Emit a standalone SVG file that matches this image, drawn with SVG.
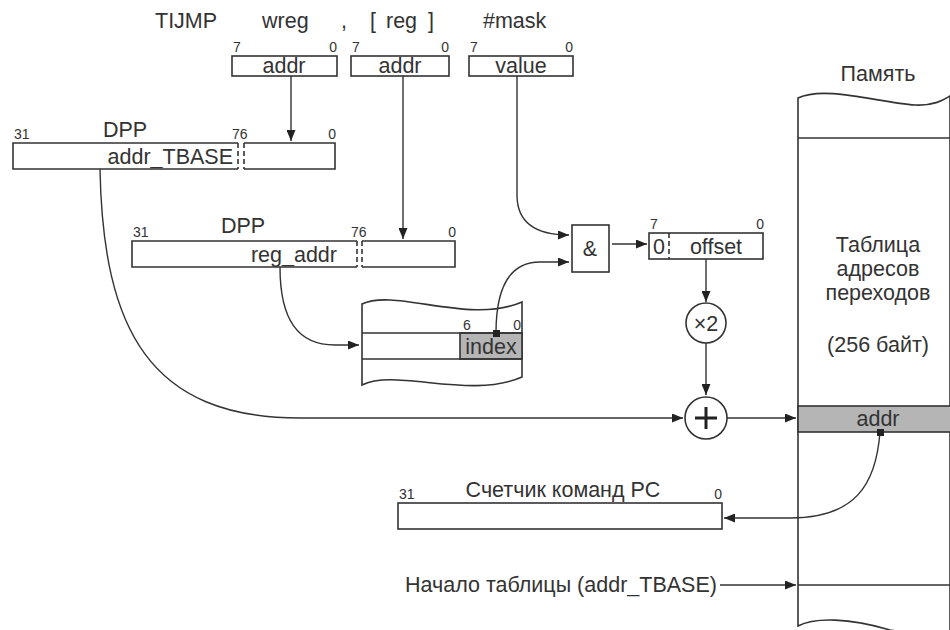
<svg xmlns="http://www.w3.org/2000/svg" width="950" height="630" viewBox="0 0 950 630">
<style>
text{font-family:"Liberation Sans",Arial,sans-serif;fill:#333}
.t{font-size:21.5px}
.b{font-size:14px}
.m{text-anchor:middle}
.e{text-anchor:end}
.s{fill:none;stroke:#333;stroke-width:1.6}
.w{fill:#fff;stroke:#333;stroke-width:1.6}
.g{fill:#b5b5b5;stroke:#333;stroke-width:1.6}
.d{fill:none;stroke:#333;stroke-width:1.6;stroke-dasharray:5 3}
.c{fill:none;stroke:#333;stroke-width:1.4}
</style>
<defs>
<marker id="ah" markerUnits="userSpaceOnUse" markerWidth="11" markerHeight="9" refX="11" refY="4.5" orient="auto">
<path d="M0,0 L11,4.5 L0,9 z" fill="#222"/>
</marker>
</defs>
<rect width="950" height="630" fill="#fff"/>

<g id="instr">
<text class="t" x="155" y="28">TIJMP</text>
<text class="t" x="262" y="28">wreg</text>
<text class="t" x="341" y="28">,</text>
<text class="t" x="370" y="28">[</text>
<text class="t" x="386" y="28">reg</text>
<text class="t" x="428" y="28">]</text>
<text class="t" x="483" y="28">#mask</text>
</g>

<g id="box-wreg">
<rect class="w" x="232" y="56" width="105" height="20"/>
<text class="b" x="233" y="52">7</text>
<text class="b e" x="337" y="52">0</text>
<text class="t m" x="284" y="73">addr</text>
</g>
<g id="box-reg">
<rect class="w" x="351" y="56" width="98" height="20"/>
<text class="b" x="352" y="52">7</text>
<text class="b e" x="449" y="52">0</text>
<text class="t m" x="400" y="73">addr</text>
</g>
<g id="box-mask">
<rect class="w" x="469" y="56" width="104" height="20"/>
<text class="b" x="470" y="52">7</text>
<text class="b e" x="573" y="52">0</text>
<text class="t m" x="521" y="73">value</text>
</g>

<g id="dpp1">
<path class="s" d="M238,143 H13 V169 H238 M244,143 H335 V169 H244"/>
<path class="d" d="M238,143 V169 M244,143 V169"/>
<text class="b" x="14" y="139">31</text>
<text class="t m" x="125" y="137">DPP</text>
<text class="b" x="232" y="139">76</text>
<text class="b e" x="336" y="139">0</text>
<text class="t e" x="233" y="164">addr_TBASE</text>
</g>

<g id="dpp2">
<path class="s" d="M357,241 H132 V267 H357 M362,241 H455 V267 H362"/>
<path class="d" d="M357,241 V267 M362,241 V267"/>
<text class="b" x="133" y="237">31</text>
<text class="t m" x="243" y="233">DPP</text>
<text class="b" x="351" y="237">76</text>
<text class="b e" x="456" y="237">0</text>
<text class="t e" x="337" y="262">reg_addr</text>
</g>

<g id="and">
<rect class="w" x="572" y="225" width="37" height="47"/>
<text class="t m" x="590" y="256">&amp;</text>
</g>

<g id="offset">
<rect class="w" x="649" y="233" width="114" height="26"/>
<path class="d" d="M669,233 V259"/>
<text class="b" x="650" y="229">7</text>
<text class="b e" x="764" y="229">0</text>
<text class="t" x="653" y="254">0</text>
<text class="t m" x="716" y="254">offset</text>
</g>

<g id="mem-block">
<path class="w" d="M362,304 C395,288 470,325 522,302 V377 C470,400 395,368 362,385 Z"/>
<rect class="g" x="460" y="333" width="62" height="26"/>
<path class="s" d="M362,333 H522 M362,359 H522"/>
<text class="b" x="463" y="330">6</text>
<text class="b e" x="521" y="330">0</text>
<text class="t m" x="491" y="354">index</text>
</g>

<g id="mul2">
<circle class="w" cx="706" cy="323" r="20"/>
<text class="t m" x="706" y="331">×2</text>
</g>

<g id="plus">
<circle class="w" cx="706" cy="418" r="21"/>
<path d="M695,418 H717 M706,407 V429" stroke="#222" stroke-width="3" fill="none"/>
</g>

<g id="memory">
<path class="w" d="M798,626 V98 C825,85 880,103 915,105 C935,106 945,99 950,96 V640 L890,630 C850,618 815,617 798,626 Z"/>
<path class="s" d="M798,138 H950"/>
<rect class="g" x="798" y="406" width="155" height="26"/>
<path class="s" d="M798,585 H950"/>
<text class="t m" x="878" y="81">Память</text>
<text class="t m" x="878" y="252">Таблица</text>
<text class="t m" x="878" y="276">адресов</text>
<text class="t m" x="878" y="300">переходов</text>
<text class="t m" x="878" y="352">(256 байт)</text>
<text class="t m" x="878" y="426">addr</text>
</g>

<g id="pc">
<rect class="w" x="398" y="503" width="324" height="26"/>
<text class="b" x="399" y="499">31</text>
<text class="b e" x="722" y="499">0</text>
<text class="t m" x="563" y="497">Счетчик команд PC</text>
</g>

<g id="start-label">
<text class="t" x="405" y="592">Начало таблицы (addr_TBASE)</text>
</g>

<g id="connectors">
<path class="c" d="M291,76 V141" marker-end="url(#ah)"/>
<path class="c" d="M403,76 V239" marker-end="url(#ah)"/>
<path class="c" d="M517,76 V195 C517,222 535,235 569,235" marker-end="url(#ah)"/>
<path class="c" d="M496,333 C496,290 508,262 540,262 H569" marker-end="url(#ah)"/>
<path class="c" d="M612,244 H647" marker-end="url(#ah)"/>
<path class="c" d="M706,259 V302" marker-end="url(#ah)"/>
<path class="c" d="M706,343 V395" marker-end="url(#ah)"/>
<path class="c" d="M100,169 C103,330 150,418 300,418 H683" marker-end="url(#ah)"/>
<path class="c" d="M280,267 C280,320 298,345 335,345 H359" marker-end="url(#ah)"/>
<path class="c" d="M727,418 H796" marker-end="url(#ah)"/>
<path class="c" d="M880,432 C876,485 855,518 790,518 H724" marker-end="url(#ah)"/>
<path class="c" d="M720,585 H796" marker-end="url(#ah)"/>
<rect x="493" y="330" width="7" height="7" fill="#222"/>
<rect x="877" y="429" width="7" height="7" fill="#222"/>
</g>
</svg>
